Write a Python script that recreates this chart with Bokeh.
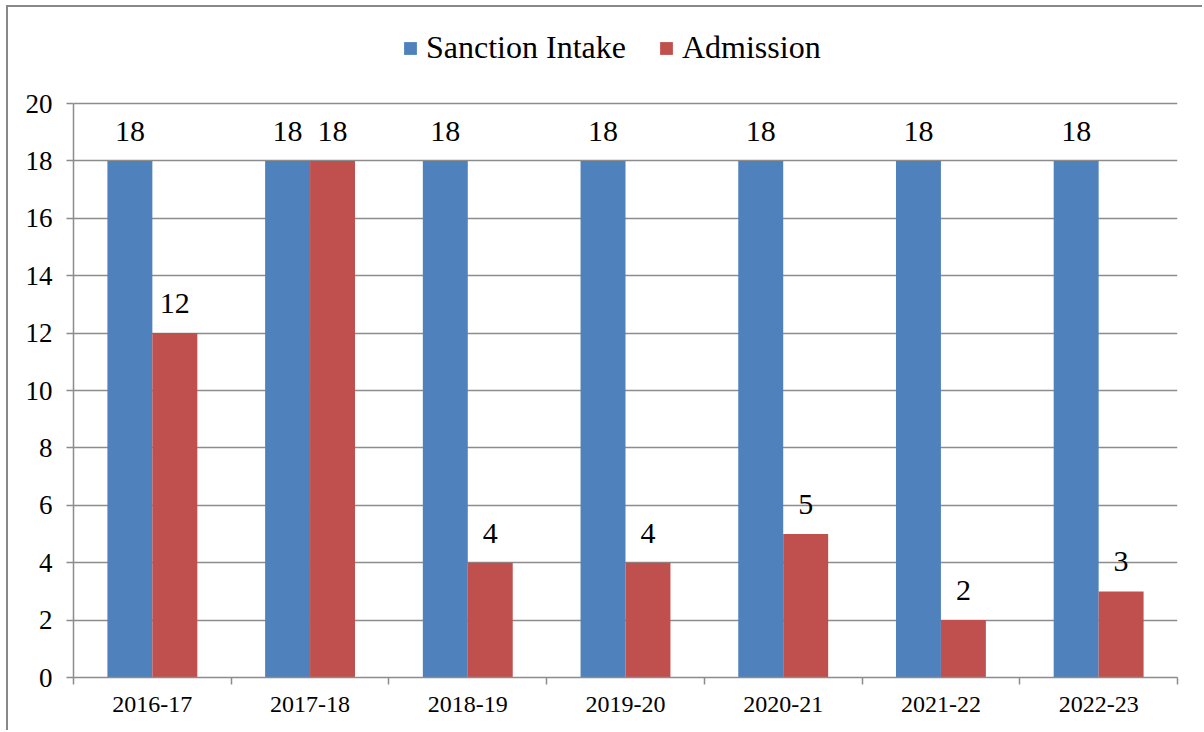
from bokeh.plotting import figure
from bokeh.models import ColumnDataSource, Range1d, FixedTicker, Legend, LegendItem
from bokeh.transform import dodge
from bokeh.core.properties import value
from bokeh.embed import file_html
from bokeh.resources import INLINE

categories = ["2016-17", "2017-18", "2018-19", "2019-20", "2020-21", "2021-22", "2022-23"]
sanction_intake = [18, 18, 18, 18, 18, 18, 18]
admission = [12, 18, 4, 4, 5, 2, 3]
y_ticks = [0, 2, 4, 6, 8, 10, 12, 14, 16, 18, 20]

FONT = "Liberation Serif"
BLUE = "#4F81BD"
RED = "#C0504D"
GRID = "#8c8c8c"

# vertical layout: axis 0..20 occupies the lower 574 px of a 670 px frame,
# the space above it holds the legend
Y_TOP = 20 * 670 / 574

xpos = [i + 0.5 for i in range(len(categories))]
src = ColumnDataSource(dict(
    x=xpos,
    intake=sanction_intake,
    adm=admission,
    intake_txt=[str(v) for v in sanction_intake],
    adm_txt=[str(v) for v in admission],
))

p = figure(width=1196, height=725, output_backend="svg", toolbar_location=None,
           x_range=Range1d(0, len(categories)), y_range=Range1d(0, Y_TOP),
           min_border_left=65, min_border_right=27, min_border_top=0, min_border_bottom=55)
p.background_fill_color = "white"
p.border_fill_color = "white"
p.outline_line_color = None
p.styles = {"margin-left": "6px", "margin-top": "5px",
            "border-left": "2px solid #888888", "border-top": "2px solid #888888"}

bw = 0.285
off = 0.1425
r1 = p.vbar(x=dodge("x", -off), top="intake", width=bw, source=src, fill_color=BLUE,
            line_color=None)
r2 = p.vbar(x=dodge("x", off), top="adm", width=bw, source=src, fill_color=RED,
            line_color=None)

for col, txt, o in (("intake", "intake_txt", -off), ("adm", "adm_txt", off)):
    p.text(x=dodge("x", o), y=col, text=txt, source=src, text_align="center",
           text_baseline="bottom", y_offset=-20, text_font=value(FONT),
           text_font_size="30px", text_color="black")

# axes
p.xgrid.grid_line_color = None
p.ygrid.grid_line_color = GRID
p.ygrid.grid_line_width = 1.5
p.ygrid.ticker = FixedTicker(ticks=y_ticks)

p.yaxis.ticker = FixedTicker(ticks=y_ticks)
p.yaxis.bounds = (y_ticks[0], y_ticks[-1])
p.yaxis.axis_line_color = GRID
p.yaxis.axis_line_width = 1.5
p.yaxis.major_tick_line_color = GRID
p.yaxis.major_tick_line_width = 1.5
p.yaxis.major_tick_out = 7
p.yaxis.major_tick_in = 0
p.yaxis.minor_tick_line_color = None
p.yaxis.major_label_text_font = FONT
p.yaxis.major_label_text_font_size = "27px"
p.yaxis.major_label_text_color = "black"
p.yaxis.major_label_standoff = 14

p.xaxis.ticker = FixedTicker(ticks=xpos, minor_ticks=list(range(len(categories) + 1)))
p.xaxis.major_label_overrides = {x: c for x, c in zip(xpos, categories)}
p.xaxis.axis_line_color = GRID
p.xaxis.axis_line_width = 1.5
p.xaxis.major_tick_line_color = None
p.xaxis.major_tick_out = 0
p.xaxis.major_tick_in = 0
p.xaxis.minor_tick_line_color = GRID
p.xaxis.minor_tick_line_width = 1.5
p.xaxis.minor_tick_out = 7
p.xaxis.minor_tick_in = 0
p.xaxis.major_label_text_font = FONT
p.xaxis.major_label_text_font_size = "24px"
p.xaxis.major_label_text_color = "black"
p.xaxis.major_label_standoff = 12

legend = Legend(items=[LegendItem(label="Sanction Intake", renderers=[r1]),
                       LegendItem(label="Admission", renderers=[r2])],
                orientation="horizontal", location=(329, 611))
legend.label_text_font = FONT
legend.label_text_font_size = "32px"
legend.label_text_color = "black"
legend.glyph_width = 16
legend.glyph_height = 16
legend.label_standoff = 8
legend.spacing = 32
legend.padding = 0
legend.margin = 0
legend.border_line_color = None
legend.background_fill_alpha = 0
p.add_layout(legend, "center")

open("out.html", "w").write(file_html(p, INLINE))
